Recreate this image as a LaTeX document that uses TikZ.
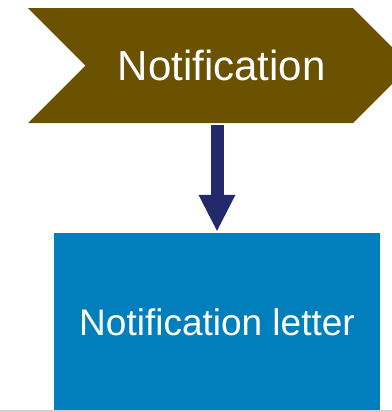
\documentclass[tikz,border=0pt]{standalone}
\usepackage{fontspec}
\setmainfont{Liberation Sans}
\usepackage{tikz}
\usetikzlibrary{arrows.meta,shapes.symbols}
\definecolor{stepbrown}{RGB}{107,82,0}
\definecolor{docblue}{RGB}{0,127,188}
\definecolor{flownavy}{RGB}{34,42,107}
\definecolor{edgegray}{RGB}{208,208,210}
\tikzset{
  chevron/.style={signal, signal to=east, signal from=west, signal pointer angle=90, fill=stepbrown, draw=none, text=white, inner sep=0pt, font=\fontsize{42bp}{50bp}\selectfont},
  docbox/.style={rectangle, fill=docblue, draw=none, text=white, inner sep=0pt, font=\fontsize{37bp}{45bp}\selectfont},
  bigarrow/.style={-{Triangle[length=37bp,width=34bp]}, line width=13bp, draw=flownavy}
}

\begin{document}
\begin{tikzpicture}[x=1bp,y=-1bp]
\useasboundingbox (0,0) rectangle (392,412);
\clip (0,0) rectangle (392,412);
\node[chevron, minimum width=382.5bp, minimum height=115bp] (notif) at (219.25,65.5) {\hspace*{5bp}Notification};
\node[docbox, minimum width=326bp, minimum height=179bp] (letter) at (217,322.5) {Notification letter};
\draw[bigarrow, shorten <=2bp, shorten >=1bp] (notif.south -| letter.north) -- (letter.north);
\draw[edgegray, line width=2bp] (0,411) -- (392,411);
\end{tikzpicture}
\end{document}
